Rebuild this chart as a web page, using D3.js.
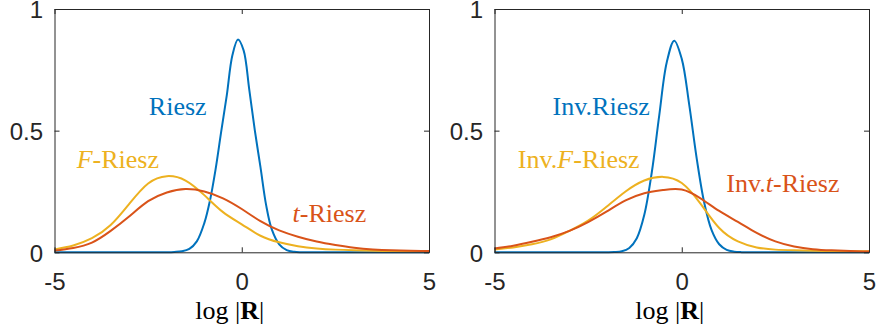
<!DOCTYPE html>
<html>
<head>
<meta charset="utf-8">
<script src="https://cdn.jsdelivr.net/npm/d3@7"></script>
<style>
  html, body { margin: 0; padding: 0; background: #fff; }
  svg { display: block; }
  .serif { font-family: "Liberation Serif", "DejaVu Serif", "Times New Roman", Times, "Noto Serif", Georgia, serif; }
</style>
</head>
<body>
<svg id="chart" width="878" height="331"></svg>
<script>
// ---------------- data ----------------
const xTicks = [-5, 0, 5];
const yTicks = [0, 0.5, 1];
const xTickLabels = ["-5", "0", "5"];
const yTickLabels = ["0", "0.5", "1"];

const xWide = [-5, -4.5, -4, -3.5, -3, -2.5, -2, -1.5, -1, -0.5, 0, 0.5, 1, 1.5, 2, 2.5, 3, 3.5, 4, 4.5, 5];

// left panel
const xRiesz = [-5, -2.5, -2, -1.8, -1.6, -1.4, -1.2, -1.0, -0.85, -0.7, -0.55, -0.4, -0.25, -0.1, 0.05, 0.2, 0.35, 0.5, 0.65, 0.8, 1.0, 1.2, 1.4, 1.6, 2, 5];
const riesz = [0, 0, 0.0005, 0.0015, 0.004, 0.014, 0.045, 0.12, 0.212, 0.34, 0.495, 0.645, 0.81, 0.875, 0.83, 0.67, 0.5, 0.35, 0.195, 0.095, 0.033, 0.009, 0.002, 0.0005, 0, 0];
const fRiesz = [0.012, 0.028, 0.058, 0.112, 0.2, 0.283, 0.313, 0.295, 0.235, 0.165, 0.115, 0.068, 0.041, 0.025, 0.016, 0.011, 0.008, 0.006, 0.005, 0.004, 0.004];
const tRiesz = [0.007, 0.018, 0.04, 0.088, 0.148, 0.21, 0.246, 0.26, 0.25, 0.222, 0.178, 0.128, 0.09, 0.064, 0.044, 0.03, 0.019, 0.012, 0.008, 0.006, 0.005];

// right panel
const xInvRiesz = [-5, -2.5, -2, -1.8, -1.6, -1.4, -1.2, -1.0, -0.8, -0.6, -0.4, -0.2, 0, 0.2, 0.4, 0.6, 0.8, 1.0, 1.2, 1.4, 1.6, 2, 5];
const invRiesz = [0, 0, 0.0001, 0.0009, 0.0043, 0.018, 0.058, 0.154, 0.329, 0.564, 0.781, 0.87, 0.795, 0.606, 0.385, 0.204, 0.09, 0.033, 0.01, 0.0027, 0.0006, 0, 0];
const invFRiesz = [0.012, 0.02, 0.033, 0.053, 0.088, 0.13, 0.188, 0.25, 0.295, 0.31, 0.285, 0.2, 0.1, 0.045, 0.02, 0.011, 0.008, 0.006, 0.005, 0.004, 0.004];
const invTRiesz = [0.016, 0.027, 0.043, 0.062, 0.088, 0.124, 0.168, 0.213, 0.243, 0.256, 0.258, 0.222, 0.17, 0.125, 0.08, 0.045, 0.024, 0.013, 0.008, 0.005, 0.003];

const leftNames = ["Riesz", "F-Riesz", "t-Riesz"];
const rightNames = ["Inv.Riesz", "Inv.F-Riesz", "Inv.t-Riesz"];

// ---------------- layout / style ----------------
const colors = { blue: "#0072BD", red: "#D95319", yellow: "#EDB120" };
const axisColor = "#262626";
const plot = { top: 9, bottom: 252.3, width: 374.5 };
const panelLeft = [54.5, 494.5];

// label anchors (data units)
const leftLabelPos = [[-1.71, 0.564], [-3.31, 0.348], [2.34, 0.126]];
const rightLabelPos = [[-2.15, 0.564], [-2.75, 0.348], [2.70, 0.249]];

const svg = d3.select("#chart");

function drawPanel(x0, series, names, labelPos) {
  const x = d3.scaleLinear().domain([-5, 5]).range([x0, x0 + plot.width]);
  const y = d3.scaleLinear().domain([0, 1]).range([plot.bottom, plot.top]);
  const g = svg.append("g");

  // curves
  series.forEach(s => {
    const line = d3.line().x(d => x(d[0])).y(d => y(d[1])).curve(s.curve);
    g.append("path")
      .datum(s.xs.map((v, i) => [v, s.ys[i]]))
      .attr("fill", "none")
      .attr("stroke", s.color)
      .attr("stroke-width", 2)
      .attr("stroke-linejoin", "round")
      .attr("d", line);
  });

  // axes
  const fontTick = "'Liberation Sans', Arial, Helvetica, sans-serif";
  const xAx = g.append("g").attr("transform", `translate(0,${plot.bottom})`)
    .call(d3.axisBottom(x).tickValues(xTicks).tickFormat((d, i) => xTickLabels[i])
      .tickSizeInner(-5).tickSizeOuter(0).tickPadding(20.5));
  const yAx = g.append("g").attr("transform", `translate(${x0},0)`)
    .call(d3.axisLeft(y).tickValues(yTicks).tickFormat((d, i) => yTickLabels[i])
      .tickSizeInner(-5).tickSizeOuter(0).tickPadding(11.5));
  const xTop = g.append("g").attr("transform", `translate(0,${plot.top})`)
    .call(d3.axisTop(x).tickValues(xTicks).tickFormat("").tickSizeInner(-5).tickSizeOuter(0));
  const yRight = g.append("g").attr("transform", `translate(${x0 + plot.width},0)`)
    .call(d3.axisRight(y).tickValues(yTicks).tickFormat("").tickSizeInner(-5).tickSizeOuter(0));
  [xAx, yAx, xTop, yRight].forEach(a => {
    a.selectAll("path.domain").attr("stroke", axisColor).attr("stroke-width", 1);
    a.selectAll(".tick line").attr("stroke", axisColor).attr("stroke-width", 1);
    a.selectAll("text").attr("fill", axisColor).attr("font-family", fontTick).attr("font-size", 24);
  });
  yAx.selectAll("text").attr("dy", "0.37em");

  // series labels
  names.forEach((name, i) => {
    const t = g.append("text")
      .attr("class", "serif")
      .attr("x", x(labelPos[i][0])).attr("y", y(labelPos[i][1]))
      .attr("text-anchor", "middle")
      .attr("fill", series[i].color)
      .attr("font-size", 26);
    const m = name.match(/^(Inv\.)?([Ft])?(-?Riesz)$/);
    if (m[1]) t.append("tspan").text(m[1]);
    if (m[2]) t.append("tspan").attr("font-style", "italic").text(m[2]);
    t.append("tspan").text(m[3]);
  });

  // x label
  const xl = g.append("text")
    .attr("class", "serif")
    .attr("x", (x(-5) + x(5)) / 2 - 12).attr("y", 319)
    .attr("text-anchor", "middle").attr("fill", "#000")
    .attr("font-size", 26);
  xl.append("tspan").text("log |");
  xl.append("tspan").attr("font-weight", "bold").text("R");
  xl.append("tspan").text("|");
}

const peakCurve = d3.curveCatmullRom.alpha(0.5);
const wideCurve = d3.curveNatural;

drawPanel(panelLeft[0], [
  { xs: xRiesz, ys: riesz, color: colors.blue, curve: peakCurve },
  { xs: xWide, ys: fRiesz, color: colors.yellow, curve: wideCurve },
  { xs: xWide, ys: tRiesz, color: colors.red, curve: wideCurve }
], leftNames, leftLabelPos);

drawPanel(panelLeft[1], [
  { xs: xInvRiesz, ys: invRiesz, color: colors.blue, curve: peakCurve },
  { xs: xWide, ys: invFRiesz, color: colors.yellow, curve: wideCurve },
  { xs: xWide, ys: invTRiesz, color: colors.red, curve: wideCurve }
], rightNames, rightLabelPos);
</script>
</body>
</html>
